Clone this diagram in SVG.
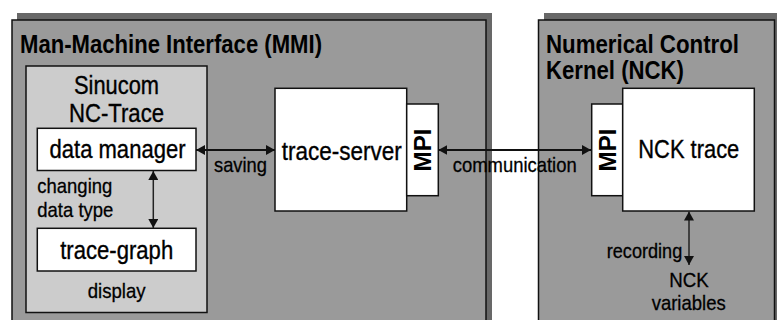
<svg xmlns="http://www.w3.org/2000/svg" width="777" height="320" viewBox="0 0 777 320">
  <style>
    .shadow { fill: #686868; stroke: none; }
    .panel { fill: #9a9a9a; stroke: #111; stroke-width: 1.5; }
    .inner { fill: #cccccc; stroke: #111; stroke-width: 1.5; }
    .box { fill: #ffffff; stroke: #111; stroke-width: 1.5; }
    text { font-family: "Liberation Sans", Arial, sans-serif; fill: #000; }
    .title { font-size: 25px; font-weight: bold; }
    .node { font-size: 25px; stroke: #000; stroke-width: 0.35; }
    .lbl { font-size: 21px; stroke: #000; stroke-width: 0.3; }
    .mpi { font-size: 24px; font-weight: bold; }
    .conn { stroke: #111; stroke-width: 2; fill: none; }
    .connv { stroke: #222; stroke-width: 1.5; fill: none; }
  </style>
  <defs>
    <marker id="ah" markerUnits="userSpaceOnUse" markerWidth="9" markerHeight="10" refX="9" refY="5" orient="auto-start-reverse" viewBox="0 0 9 10">
      <path d="M0,0 L9,5 L0,10 z" fill="#111"/>
    </marker>
  </defs>

  <g id="mmi">
    <rect class="shadow" x="17" y="13" width="475" height="320"/>
    <rect class="panel" x="12" y="20" width="474" height="320"/>
    <text class="title" x="20" y="52.5" textLength="302" lengthAdjust="spacingAndGlyphs">Man-Machine Interface (MMI)</text>
  </g>

  <g id="nck">
    <rect class="shadow" x="544" y="13" width="240" height="320"/>
    <rect class="panel" x="538.5" y="20" width="236" height="320"/>
    <text class="title" x="546" y="53" textLength="193" lengthAdjust="spacingAndGlyphs">Numerical Control</text>
    <text class="title" x="546" y="79" textLength="138" lengthAdjust="spacingAndGlyphs">Kernel (NCK)</text>
  </g>

  <g id="sinucom">
    <rect class="inner" x="26" y="66" width="181" height="246.5"/>
    <text class="node" x="116.5" y="94" text-anchor="middle" textLength="85" lengthAdjust="spacingAndGlyphs">Sinucom</text>
    <text class="node" x="116.5" y="122" text-anchor="middle" textLength="95" lengthAdjust="spacingAndGlyphs">NC-Trace</text>
    <text class="lbl" x="116.7" y="298" text-anchor="middle" textLength="58" lengthAdjust="spacingAndGlyphs">display</text>
  </g>

  <g id="data-manager">
    <rect class="box" x="37.3" y="128.3" width="158.7" height="42.2"/>
    <text class="node" x="117.5" y="158" text-anchor="middle" textLength="136" lengthAdjust="spacingAndGlyphs">data manager</text>
  </g>

  <g id="trace-graph">
    <rect class="box" x="37.3" y="228.3" width="158.7" height="42.7"/>
    <text class="node" x="116.7" y="259" text-anchor="middle" textLength="113" lengthAdjust="spacingAndGlyphs">trace-graph</text>
  </g>

  <g id="trace-server">
    <rect class="box" x="275" y="88.3" width="131.7" height="122.7"/>
    <text class="node" x="341.7" y="160" text-anchor="middle" textLength="120" lengthAdjust="spacingAndGlyphs">trace-server</text>
  </g>

  <g id="mpi-mmi">
    <rect class="box" x="406.7" y="104" width="31.6" height="91.7"/>
    <text class="mpi" transform="translate(430.7,150) rotate(-90)" text-anchor="middle" textLength="43" lengthAdjust="spacingAndGlyphs">MPI</text>
  </g>

  <g id="mpi-nck">
    <rect class="box" x="591.7" y="104" width="31" height="91.7"/>
    <text class="mpi" transform="translate(615.7,150) rotate(-90)" text-anchor="middle" textLength="43" lengthAdjust="spacingAndGlyphs">MPI</text>
  </g>

  <g id="nck-trace">
    <rect class="box" x="622.7" y="88.3" width="131.6" height="122.7"/>
    <text class="node" x="688.8" y="158.3" text-anchor="middle" textLength="101" lengthAdjust="spacingAndGlyphs">NCK trace</text>
  </g>

  <g id="nck-variables">
    <text class="lbl" x="689" y="287.3" text-anchor="middle" textLength="39.4" lengthAdjust="spacingAndGlyphs">NCK</text>
    <text class="lbl" x="688.7" y="310" text-anchor="middle" textLength="74" lengthAdjust="spacingAndGlyphs">variables</text>
  </g>

  <g id="connectors">
    <line class="conn" x1="196" y1="150" x2="275" y2="150" marker-start="url(#ah)" marker-end="url(#ah)"/>
    <line class="conn" x1="438.3" y1="150" x2="591" y2="150" marker-start="url(#ah)" marker-end="url(#ah)"/>
    <line class="connv" x1="153.3" y1="171" x2="153.3" y2="228" marker-start="url(#ah)" marker-end="url(#ah)"/>
    <line class="connv" x1="689" y1="211.5" x2="689" y2="265" marker-start="url(#ah)" marker-end="url(#ah)"/>
    <text class="lbl" x="214" y="172" textLength="53" lengthAdjust="spacingAndGlyphs">saving</text>
    <text class="lbl" x="452.7" y="172" textLength="124" lengthAdjust="spacingAndGlyphs">communication</text>
    <text class="lbl" x="37.3" y="193" textLength="75" lengthAdjust="spacingAndGlyphs">changing</text>
    <text class="lbl" x="37.3" y="217" textLength="76" lengthAdjust="spacingAndGlyphs">data type</text>
    <text class="lbl" x="606.7" y="258.3" textLength="75.6" lengthAdjust="spacingAndGlyphs">recording</text>
  </g>
</svg>
